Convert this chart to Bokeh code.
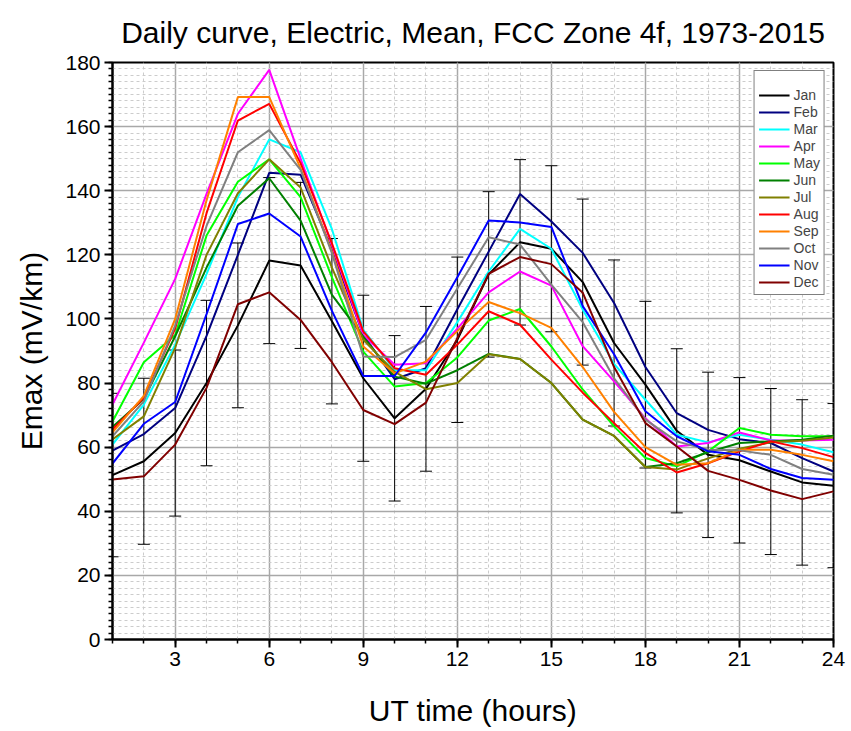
from bokeh.plotting import figure
from bokeh.models import Range1d, SingleIntervalTicker, Whisker, ColumnDataSource, TeeHead
from bokeh.embed import file_html
from bokeh.resources import INLINE

hours = list(range(1, 25))
months = ["Jan", "Feb", "Mar", "Apr", "May", "Jun", "Jul", "Aug", "Sep", "Oct", "Nov", "Dec"]
colors = ["#000000", "#000080", "#00FFFF", "#FF00FF", "#00FF00", "#008000",
          "#808000", "#FF0000", "#FF8000", "#808080", "#0000FF", "#800000"]

jan = [51.3, 55.6, 64.4, 80.0, 98.0, 118.2, 116.7, 99.3, 81.5, 69.0, 78.2, 93.5,
       113.9, 123.9, 121.9, 111.5, 92.5, 79.5, 65.1, 57.6, 55.9, 52.4, 49.0, 48.0]
feb = [58.9, 64.1, 72.2, 94.7, 120.0, 145.6, 145.0, 121.6, 95.0, 81.2, 84.6, 103.0,
       121.0, 139.0, 130.4, 120.6, 105.0, 85.0, 70.6, 65.4, 62.5, 61.3, 56.6, 52.4]
mar = [60.8, 73.3, 92.0, 114.0, 138.0, 156.0, 152.0, 128.0, 96.6, 84.0, 84.0, 99.0,
       114.8, 128.1, 121.9, 102.9, 86.0, 74.8, 63.9, 61.5, 63.9, 62.3, 60.8, 58.4]
apr = [73.3, 92.6, 112.5, 139.0, 164.0, 177.7, 150.0, 123.0, 95.0, 85.7, 86.2, 97.0,
       108.3, 114.8, 110.4, 91.5, 80.5, 69.0, 60.2, 61.3, 64.6, 62.1, 62.1, 62.3]
may = [68.0, 86.5, 95.0, 126.0, 142.8, 149.8, 138.0, 113.0, 89.8, 78.9, 80.0, 88.0,
       99.5, 103.1, 91.4, 78.0, 66.5, 56.6, 54.0, 58.7, 66.0, 63.9, 63.4, 63.4]
jun = [66.3, 75.0, 94.6, 116.0, 135.3, 143.9, 130.7, 107.5, 94.5, 82.0, 79.8, 84.0,
       89.1, 87.5, 80.0, 68.6, 63.5, 53.8, 55.0, 58.4, 61.3, 61.8, 62.3, 63.6]
jul = [62.4, 69.6, 91.0, 120.0, 139.2, 149.8, 141.0, 116.0, 93.5, 83.5, 78.1, 80.0,
       89.0, 87.5, 80.0, 68.6, 63.5, 53.8, 53.0, 56.5, 59.5, 61.5, 62.0, 63.0]
aug = [65.5, 75.4, 97.0, 133.0, 161.9, 167.1, 148.6, 123.6, 96.1, 84.6, 82.6, 92.0,
       102.4, 98.2, 87.3, 77.0, 67.5, 58.2, 52.1, 55.0, 58.7, 61.8, 59.7, 56.9]
sep = [64.6, 76.0, 100.0, 137.0, 169.2, 169.2, 147.0, 121.0, 91.4, 83.0, 86.7, 96.2,
       105.3, 101.8, 97.2, 85.0, 71.0, 60.0, 54.5, 55.0, 59.2, 59.2, 57.6, 55.6]
oct_ = [63.4, 74.3, 98.0, 129.0, 152.0, 158.9, 146.5, 120.5, 88.3, 88.1, 93.5, 109.5,
        125.5, 123.2, 110.7, 99.0, 81.5, 68.6, 61.8, 59.2, 59.0, 57.6, 53.2, 51.4]
nov = [54.9, 67.3, 74.1, 101.5, 129.6, 132.9, 125.7, 102.5, 82.2, 82.2, 95.8, 113.0,
       130.7, 130.1, 128.7, 104.0, 89.0, 71.2, 63.4, 58.7, 57.6, 53.2, 50.4, 49.8]
dec = [49.9, 50.9, 60.8, 78.5, 104.6, 108.3, 99.7, 86.5, 71.6, 67.2, 73.9, 94.0,
       114.1, 119.3, 117.1, 108.2, 85.0, 67.5, 60.2, 52.6, 49.8, 46.5, 43.8, 46.2]

# error bar half-widths (drawn around the Jan curve)
jan_err = [25.5, 25.9, 25.9, 25.8, 25.7, 25.9, 25.9, 25.8, 25.9, 25.8, 25.7, 25.8,
           25.8, 25.8, 25.9, 25.9, 25.9, 26.0, 25.6, 25.8, 25.8, 25.9, 25.8, 25.6]

series = [jan, feb, mar, apr, may, jun, jul, aug, sep, oct_, nov, dec]

FONT = "Liberation Sans"

p = figure(width=851, height=731, output_backend="svg", toolbar_location=None,
           x_range=Range1d(1, 24), y_range=Range1d(0, 180),
           min_border_left=112, min_border_right=18, min_border_top=62, min_border_bottom=92,
           title="Daily curve, Electric, Mean, FCC Zone 4f, 1973-2015")

p.title.text_font = FONT
p.title.text_font_size = "30px"
p.title.text_font_style = "normal"
p.title.text_color = "black"
p.title.align = "center"
p.title.standoff = 27

p.background_fill_color = "white"
p.border_fill_color = "white"
p.outline_line_color = "black"
p.outline_line_width = 2

p.xaxis.ticker = SingleIntervalTicker(interval=3, num_minor_ticks=3)
p.yaxis.ticker = SingleIntervalTicker(interval=20, num_minor_ticks=10)

for ax in (p.xaxis, p.yaxis):
    ax.axis_line_color = "black"
    ax.axis_line_width = 2
    ax.major_tick_line_color = "black"
    ax.major_tick_line_width = 2
    ax.minor_tick_line_color = "black"
    ax.minor_tick_line_width = 1.5
    ax.major_tick_out = 8
    ax.major_tick_in = 0
    ax.minor_tick_out = 4
    ax.minor_tick_in = 0
    ax.major_label_text_font = FONT
    ax.major_label_text_font_size = "21px"
    ax.major_label_text_color = "black"
    ax.axis_label_text_font = FONT
    ax.axis_label_text_font_size = "30px"
    ax.axis_label_text_font_style = "normal"
    ax.axis_label_text_color = "black"
    ax.major_label_standoff = 4

p.xaxis.axis_label = "UT time (hours)"
p.yaxis.axis_label = "Emax (mV/km)"
p.xaxis.axis_label_standoff = 25
p.yaxis.axis_label_standoff = 14

for g in (p.xgrid, p.ygrid):
    g.grid_line_color = "#a8a8a8"
    g.grid_line_width = 1.5
    g.minor_grid_line_color = "#cccccc"
    g.minor_grid_line_width = 1
    g.minor_grid_line_dash = "3 3"

for name, col, vals in zip(months, colors, series):
    p.line(hours, vals, line_color=col, line_width=2, legend_label=name)

lower = [v - e for v, e in zip(jan, jan_err)]
upper = [v + e for v, e in zip(jan, jan_err)]
src = ColumnDataSource(dict(x=hours, lower=lower, upper=upper))
wh = Whisker(source=src, base="x", lower="lower", upper="upper",
             line_color="black", line_width=1,
             upper_head=TeeHead(size=12, line_color="black", line_width=1),
             lower_head=TeeHead(size=12, line_color="black", line_width=1))
p.add_layout(wh)

lg = p.legend[0]
lg.location = "top_right"
lg.margin = 8
lg.padding = 4
lg.spacing = 1
lg.label_height = 14
lg.glyph_height = 14
lg.glyph_width = 31
lg.label_standoff = 4
lg.label_text_font = FONT
lg.label_text_font_size = "14px"
lg.border_line_color = "black"
lg.border_line_width = 1
lg.background_fill_alpha = 1
lg.title = " "
lg.title_text_font_size = "8px"
lg.title_standoff = 3

open("out.html", "w").write(file_html(p, INLINE))
